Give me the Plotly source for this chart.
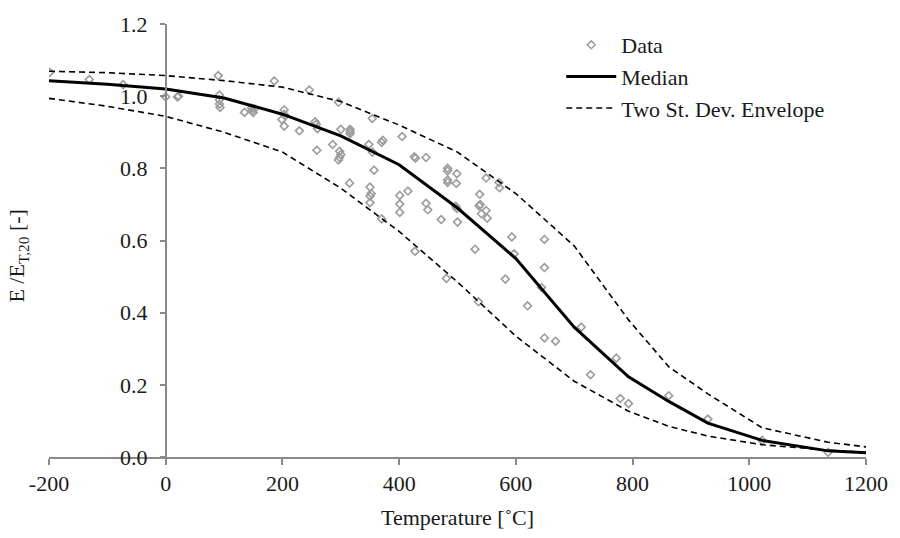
import plotly.graph_objects as go

# ---- data ----
data_T = [-199, -131, -73, 0, 20, 22, 90, 92, 92, 92, 93, 135, 147, 148, 150, 152,
          186, 203, 199, 203, 203, 205, 229, 246, 256, 258, 260, 259, 296, 286,
          298, 298, 300, 296, 300, 316, 316, 316, 315, 354, 348, 354, 357, 350,
          350, 352, 350, 370, 372, 370, 405, 401, 401, 401, 415, 426, 428, 446,
          446, 449, 427, 483, 483, 499, 483, 483, 498, 472, 500, 499, 497, 481,
          549, 538, 537, 539, 549, 541, 551, 530, 536, 571, 572, 593, 597, 582,
          620, 649, 649, 644, 649, 668, 712, 728, 772, 779, 793, 862, 929, 1022, 1135]
data_E = [1.066, 1.046, 1.032, 0.998, 0.998, 1.000, 1.057, 1.003, 0.990, 0.978, 0.969,
          0.955, 0.967, 0.960, 0.955, 0.965, 1.042, 0.962, 0.935, 0.917, 0.950, 0.945,
          0.904, 1.017, 0.929, 0.922, 0.910, 0.850, 0.983, 0.866, 0.847, 0.830, 0.838,
          0.823, 0.908, 0.908, 0.902, 0.896, 0.759, 0.938, 0.866, 0.845, 0.795, 0.748,
          0.723, 0.730, 0.705, 0.872, 0.878, 0.660, 0.888, 0.725, 0.701, 0.678, 0.737,
          0.832, 0.828, 0.830, 0.703, 0.685, 0.570, 0.793, 0.800, 0.785, 0.761, 0.768,
          0.758, 0.658, 0.651, 0.689, 0.695, 0.495, 0.773, 0.728, 0.696, 0.700, 0.683,
          0.674, 0.662, 0.576, 0.430, 0.761, 0.746, 0.610, 0.563, 0.493, 0.419, 0.603,
          0.525, 0.470, 0.330, 0.321, 0.360, 0.228, 0.274, 0.162, 0.148, 0.170, 0.105,
          0.046, 0.013]

curve_T = [-200, -100, 0, 100, 200, 300, 400, 500, 600, 700, 793, 862, 929, 1022, 1135, 1200]
median_E = [1.043, 1.033, 1.020, 0.995, 0.950, 0.890, 0.810, 0.690, 0.550, 0.360,
            0.222, 0.154, 0.094, 0.046, 0.017, 0.012]
upper_E = [1.069, 1.065, 1.057, 1.043, 1.025, 0.985, 0.920, 0.845, 0.730, 0.585,
           0.380, 0.250, 0.175, 0.081, 0.041, 0.028]
lower_E = [0.994, 0.972, 0.944, 0.900, 0.845, 0.745, 0.625, 0.485, 0.335, 0.210,
           0.127, 0.085, 0.058, 0.034, 0.019, 0.013]

x_ticks = [-200, 0, 200, 400, 600, 800, 1000, 1200]
x_tick_text = ["-200", "0", "200", "400", "600", "800", "1000", "1200"]
y_ticks = [0.0, 0.2, 0.4, 0.6, 0.8, 1.0, 1.2]

FONT = "Liberation Serif"
FS = 22
AXIS_GREY = "#8a8a8a"
TXT = "#1a1a1a"

fig = go.Figure()
fig.add_trace(go.Scatter(
    x=data_T, y=data_E, mode="markers", name="Data",
    marker=dict(symbol="diamond-open", size=6, color="#9c9c9c", line=dict(width=1.6, color="#9c9c9c"))))
fig.add_trace(go.Scatter(
    x=curve_T, y=median_E, mode="lines", name="Median",
    line=dict(color="black", width=3)))
fig.add_trace(go.Scatter(
    x=curve_T, y=upper_E, mode="lines", name="Two St. Dev. Envelope",
    line=dict(color="black", width=1.6, dash="6px,4px")))
fig.add_trace(go.Scatter(
    x=curve_T, y=lower_E, mode="lines", name="lower", showlegend=False,
    line=dict(color="black", width=1.6, dash="6px,4px")))

fig.update_layout(
    width=900, height=538,
    margin=dict(l=49, r=27, t=14, b=81),
    paper_bgcolor="white", plot_bgcolor="white",
    font=dict(family=FONT, size=FS, color=TXT),
    showlegend=True,
    legend=dict(x=0.627, y=1.0, xanchor="left", yanchor="top",
                bgcolor="rgba(0,0,0,0)", font=dict(family=FONT, size=FS, color=TXT),
                itemwidth=50, tracegroupgap=0),
    xaxis=dict(range=[-200, 1200], tickvals=x_ticks, ticktext=x_tick_text,
               showgrid=False, zeroline=False, showline=True, linecolor=AXIS_GREY, linewidth=1.5,
               ticks="outside", ticklen=6, tickcolor=AXIS_GREY, tickwidth=1.5,
               tickfont=dict(family=FONT, size=FS, color=TXT),
               title=dict(text="Temperature [˚C]", font=dict(family=FONT, size=FS, color=TXT), standoff=14)),
    yaxis=dict(range=[0, 1.2], tickvals=y_ticks, tickformat=".1f",
               showgrid=False, zeroline=False, showline=True, linecolor=AXIS_GREY, linewidth=1.5,
               ticks="outside", ticklen=5, tickcolor=AXIS_GREY, tickwidth=1.5,
               tickfont=dict(family=FONT, size=FS, color=TXT), ticklabelstandoff=8,
               anchor="free", position=200 / 1400),
    annotations=[dict(text="E /E<sub>T,20</sub> [-]", textangle=-90, xref="paper", yref="paper",
                      x=-0.038, y=0.465, xanchor="center", yanchor="middle", showarrow=False,
                      font=dict(family=FONT, size=FS, color=TXT))],
)

fig.write_html("out.html")
